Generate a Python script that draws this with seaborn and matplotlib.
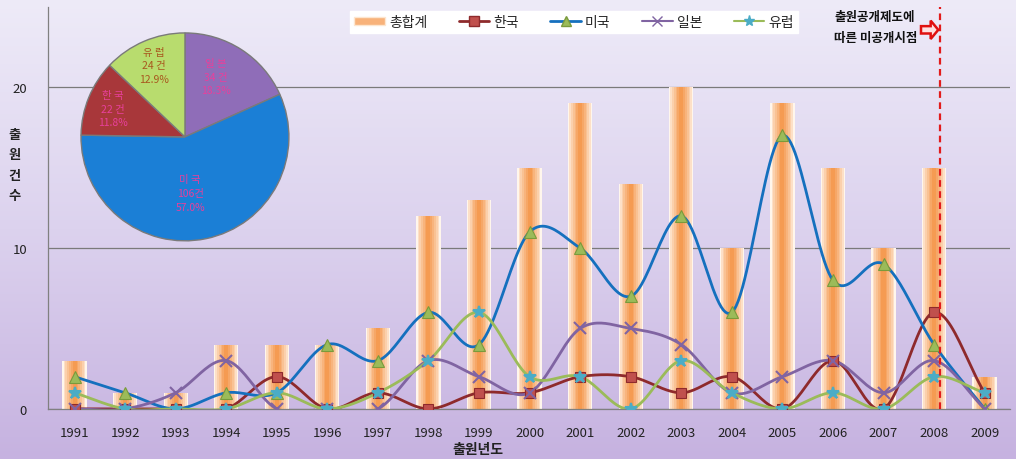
import numpy as np
import pandas as pd
import seaborn as sns
import matplotlib.pyplot as plt
from matplotlib.colors import LinearSegmentedColormap, to_rgb
from matplotlib.patches import Patch, FancyArrow
from matplotlib.lines import Line2D

# 출원년도별 데이터
years = [str(y) for y in range(1991, 2010)]
total = [3, 1, 1, 4, 4, 4, 5, 12, 13, 15, 19, 14, 20, 10, 19, 15, 10, 15, 2]
korea = [0, 0, 0, 0, 2, 0, 1, 0, 1, 1, 2, 2, 1, 2, 0, 3, 0, 6, 1]
usa = [2, 1, 0, 1, 1, 4, 3, 6, 4, 11, 10, 7, 12, 6, 17, 8, 9, 4, 0]
japan = [0, 0, 1, 3, 0, 0, 0, 3, 2, 1, 5, 5, 4, 1, 2, 3, 1, 3, 0]
europe = [1, 0, 0, 0, 1, 0, 1, 3, 6, 2, 2, 0, 3, 1, 0, 1, 0, 2, 1]

# 국가별 합계 (파이)
pie_names = ['일 본', '미 국', '한 국', '유 럽']
pie_counts = [34, 106, 22, 24]
pie_pcts = ['18.3%', '57.0%', '11.8%', '12.9%']

sns.set_theme(style='white')
plt.rcParams['font.family'] = ['Noto Sans CJK KR', 'DejaVu Sans']
plt.rcParams['axes.unicode_minus'] = False


def smooth(vals, n=24):
    # Excel 식 부드러운 선 (Catmull-Rom)
    y = np.asarray(vals, float)
    m = np.gradient(y)
    xs, ys = [], []
    for i in range(len(y) - 1):
        t = np.linspace(0, 1, n, endpoint=False)
        h00 = 2 * t**3 - 3 * t**2 + 1
        h10 = t**3 - 2 * t**2 + t
        h01 = -2 * t**3 + 3 * t**2
        h11 = t**3 - t**2
        xs.append(i + t)
        ys.append(h00 * y[i] + h10 * m[i] + h01 * y[i + 1] + h11 * m[i + 1])
    xs.append([len(y) - 1])
    ys.append([y[-1]])
    return np.concatenate(xs), np.concatenate(ys)


fig = plt.figure(figsize=(10.16, 4.6), dpi=100)

# 배경 그라데이션
bg = fig.add_axes([0, 0, 1, 1], zorder=-10)
bg_cmap = LinearSegmentedColormap.from_list('bg', ['#C6B2E0', '#DCD2EE', '#EEEBF8'])
bg.imshow(np.linspace(0, 1, 256).reshape(-1, 1), aspect='auto', cmap=bg_cmap,
          origin='lower', extent=[0, 1, 0, 1])
bg.axis('off')

ax = fig.add_axes([0.047, 0.109, 0.947, 0.874])
ax.set_facecolor('none')

df = pd.DataFrame({'year': years, 'total': total})

# 막대 그라데이션 (바깥 흰색 -> 안쪽 주황)
c_out = np.array(to_rgb('#FFF6EC'))
c_in = np.array(to_rgb('#F59B52'))
widths = [0.48, 0.43, 0.36, 0.29, 0.22, 0.15, 0.08]
for k, w in enumerate(widths):
    f = (k / (len(widths) - 1)) ** 0.8
    col = tuple(c_out * (1 - f) + c_in * f)
    sns.barplot(data=df, x='year', y='total', width=w, color=col, saturation=1,
                linewidth=0, ax=ax, zorder=2)

series = [
    (korea, '#8E2A2C', 's', '#C0504D', '#8E2A2C', 7.5),
    (usa, '#1570BE', '^', '#9BBB59', '#7A9A3C', 8),
    (japan, '#8064A2', 'x', '#8064A2', '#8064A2', 8),
    (europe, '#9BBB59', '*', '#4BACC6', '#4BACC6', 9),
]
x_idx = np.arange(len(years))
for vals, lc, mk, mfc, mec, ms in series:
    sx, sy = smooth(vals)
    ax.plot(sx, sy, color=lc, lw=2, zorder=3, solid_capstyle='round')
    ax.plot(x_idx, vals, ls='none', marker=mk, ms=ms, mfc=mfc, mec=mec,
            mew=1.5 if mk in ('x', '*') else 0.8, zorder=4)

ax.set_xlim(-0.53, 18.45)
ax.set_ylim(0, 25)
ax.set_yticks([0, 10, 20])
ax.set_xticks(x_idx)
ax.set_xticks(np.arange(-0.5, 19, 1), minor=True)
ax.tick_params(axis='x', which='major', length=0, labelsize=9.5, colors='#222222', pad=12)
ax.tick_params(axis='x', which='minor', length=5, width=0.8, color='#808080', direction='out')
ax.tick_params(axis='y', length=5, width=0.8, color='#808080', direction='out',
               labelsize=9.5, labelcolor='#222222', pad=10)
ax.yaxis.grid(True, color='#7A7A7A', lw=0.9)
ax.set_axisbelow(True)
for s in ['top', 'right']:
    ax.spines[s].set_visible(False)
for s in ['left', 'bottom']:
    ax.spines[s].set_color('#808080')
    ax.spines[s].set_linewidth(0.9)
ax.set_xlabel('')
ax.set_ylabel('')

fig.text(0.008, 0.64, '출\n원\n건\n수', fontsize=9.5, fontweight='bold',
         ha='left', va='center', linespacing=1.6, color='#222222')
fig.text(0.47, 0.022, '출원년도', fontsize=10, fontweight='bold',
         ha='center', va='center', color='#222222')

# 미공개 시점 표시
ax.axvline(17.12, color='#E21B1B', lw=1.6, ls=(0, (3, 2)), zorder=5)
fig.text(0.821, 0.975, '출원공개제도에\n따른 미공개시점', fontsize=9, fontweight='bold',
         ha='left', va='top', linespacing=1.75, color='#111111')
arrow = FancyArrow(0.9065, 0.933, 0.0095, 0, width=0.016, head_width=0.04,
                   head_length=0.0075, length_includes_head=False,
                   transform=fig.transFigure, fc='#FFE0E0', ec='#E01010', lw=1.8)
fig.patches.append(arrow)

# 범례
handles = [
    Patch(facecolor='#F8B27A', edgecolor='#FDE6D0'),
    Line2D([], [], color='#8E2A2C', lw=2, marker='s', ms=7, mfc='#C0504D', mec='#8E2A2C'),
    Line2D([], [], color='#1570BE', lw=2, marker='^', ms=7, mfc='#9BBB59', mec='#7A9A3C'),
    Line2D([], [], color='#8064A2', lw=1.5, marker='x', ms=7, mec='#8064A2'),
    Line2D([], [], color='#9BBB59', lw=1.5, marker='*', ms=8, mfc='#4BACC6', mec='#4BACC6'),
]
leg = ax.legend(handles, ['총합계', '한국', '미국', '일본', '유럽'], ncol=5,
                loc='lower left', bbox_to_anchor=(0.307, 0.918, 0.48, 0.07),
                mode='expand', frameon=True, facecolor='white', edgecolor='white',
                fancybox=False, framealpha=1, fontsize=10, handlelength=2.2,
                handleheight=0.5, borderpad=0.3, handletextpad=0.3)
leg.set_zorder(6)

# 파이 차트 (국가별 비율)
pax = fig.add_axes([0.0787, 0.472, 0.2067, 0.4565], zorder=5)
pie_colors = ['#8F6DB8', '#1B7FD6', '#A8373A', '#B8DC6E']
pax.pie(pie_counts, colors=pie_colors, startangle=90, counterclock=False,
        wedgeprops=dict(edgecolor='#7A7A7A', linewidth=1))
pax.set_xlim(-1.01, 1.01)
pax.set_ylim(-1.01, 1.01)
pax.set_aspect('equal')
label_xy = [(0.30, 0.58), (0.05, -0.54), (-0.69, 0.27), (-0.30, 0.69)]
label_col = ['#E8409C', '#E8409C', '#E8409C', '#A8581E']
for name, cnt, pct, (lx, ly), lcol in zip(pie_names, pie_counts, pie_pcts, label_xy, label_col):
    gap = '' if cnt >= 100 else ' '
    pax.text(lx, ly, f'{name}\n{cnt}{gap}건\n{pct}', ha='center', va='center',
             fontsize=7.5, color=lcol, linespacing=1.45)

fig.savefig('out.png', dpi=100)
